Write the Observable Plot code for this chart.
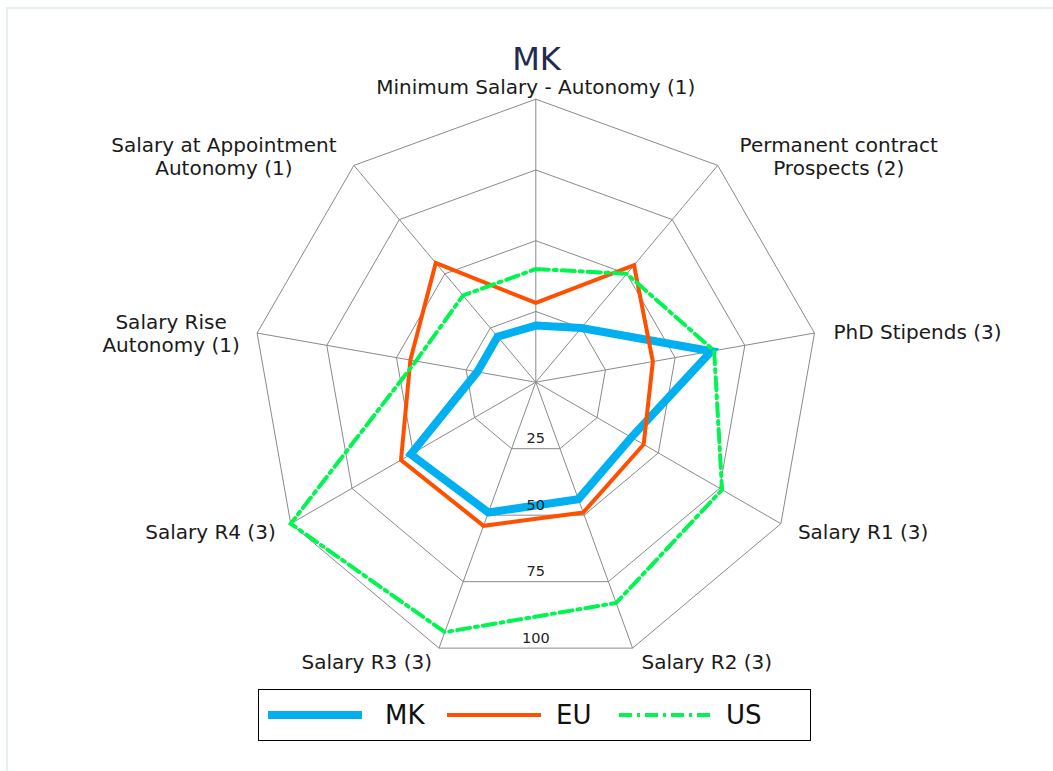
<!DOCTYPE html>
<html>
<head>
<meta charset="utf-8">
<script src="https://cdn.jsdelivr.net/npm/d3@7"></script>
<script src="https://cdn.jsdelivr.net/npm/@observablehq/plot@0.6"></script>
<style>
  html, body { margin: 0; padding: 0; background: #fff; width: 1053px; height: 771px; overflow: hidden; }
  body { position: relative; font-family: "DejaVu Sans", sans-serif; }
  #frame { position: absolute; left: 6px; top: 7px; width: 1100px; height: 800px; border-top: 2px solid #e8eff3; border-left: 2px solid #e8eff3; }
  #title { position: absolute; left: 0; top: 41px; width: 1073px; text-align: center; font-size: 32px; line-height: 36px; color: #1f2b4f; }
  #chart { position: absolute; left: 0; top: 74px; }
  #legend { position: absolute; left: 258px; top: 689px; width: 551px; height: 50px; border: 1px solid #000; background: #fff; }
  #legend .sw { position: absolute; top: 19px; }
  #legend .lab { position: absolute; top: 9px; font-size: 26px; line-height: 32px; color: #111; }
</style>
</head>
<body>
<div id="frame"></div>
<div id="title">MK</div>
<div id="chart"></div>
<div id="legend"></div>
<script>
// ---- data ----
const axes = [
  "Minimum Salary - Autonomy (1)",
  "Permanent contract\nProspects (2)",
  "PhD Stipends (3)",
  "Salary R1 (3)",
  "Salary R2 (3)",
  "Salary R3 (3)",
  "Salary R4 (3)",
  "Salary Rise\nAutonomy (1)",
  "Salary at Appointment\nAutonomy (1)"
];
const mkValues = [20, 25, 63, 39, 44, 49, 51, 21, 21];
const euValues = [28, 54, 42, 44, 49, 54, 55, 45, 55];
const usValues = [40, 50, 64, 76, 83, 94, 100, 43, 40];
const seriesNames = ["MK", "EU", "US"];
const ringTicks = [25, 50, 75, 100];

// ---- styles / layout ----
const colors = {MK: "#00b0f0", EU: "#ff5000", US: "#00f550"};
const widths = {MK: 8, EU: 4, US: 4};
const dashes = {MK: null, EU: null, US: "13,5,3,5"};
const labelLayout = [
  {anchor: "middle", dx: 0, dy: -13},
  {anchor: "middle", dx: 121, dy: -9},
  {anchor: "start", dx: 19, dy: -1},
  {anchor: "start", dx: 17, dy: 8},
  {anchor: "start", dx: 9, dy: 13},
  {anchor: "end", dx: -7, dy: 13},
  {anchor: "end", dx: -15, dy: 8},
  {anchor: "middle", dx: -86, dy: 0},
  {anchor: "middle", dx: -130, dy: -9}
];

const W = 1053, H = 608, CX = 535.3, CY = 381.7 - 74, PX = 2.83;
const n = axes.length;
const ang = i => i * 2 * Math.PI / n;
const px = (v, i) => v * Math.sin(ang(i));
const py = (v, i) => v * Math.cos(ang(i));

const valuesBySeries = {MK: mkValues, EU: euValues, US: usValues};
const seriesData = seriesNames.flatMap(s =>
  d3.range(n + 1).map(k => ({s, x: px(valuesBySeries[s][k % n], k % n), y: py(valuesBySeries[s][k % n], k % n)})));
const ringData = ringTicks.flatMap(t =>
  d3.range(n + 1).map(k => ({t, x: px(t, k % n), y: py(t, k % n)})));
const spokes = axes.map((a, i) => ({x1: 0, y1: 0, x2: px(100, i), y2: py(100, i)}));
const rMax = d3.max(ringTicks);

const marks = [
  Plot.line(ringData, {x: "x", y: "y", z: "t", stroke: "#8a8a8a", strokeWidth: 1}),
  Plot.link(spokes, {x1: "x1", y1: "y1", x2: "x2", y2: "y2", stroke: "#8a8a8a", strokeWidth: 1}),
  ...seriesNames.map(s => Plot.line(seriesData.filter(d => d.s === s), {
    x: "x", y: "y", stroke: colors[s], strokeWidth: widths[s],
    strokeDasharray: dashes[s], strokeLinejoin: "miter", strokeMiterlimit: 10
  })),
  Plot.text(ringTicks, {x: () => 0, y: t => -t * Math.cos(Math.PI / n), text: t => String(t),
    dy: -10, fontSize: 14.5, fill: "#222"}),
  ...axes.map((a, i) => Plot.text([a], {
    x: () => px(rMax, i), y: () => py(rMax, i), text: d => d,
    textAnchor: labelLayout[i].anchor, dx: labelLayout[i].dx, dy: labelLayout[i].dy,
    fontSize: 20, fill: "#1a1a1a", lineHeight: 1.15
  }))
];

const chart = Plot.plot({
  width: W, height: H,
  margin: 0,
  x: {domain: [-CX / PX, (W - CX) / PX], range: [0, W], axis: null},
  y: {domain: [-(H - CY) / PX, CY / PX], range: [H, 0], axis: null},
  style: {fontFamily: "DejaVu Sans, sans-serif", background: "transparent", overflow: "visible"},
  marks
});
document.getElementById("chart").appendChild(chart);

// ---- legend ----
const legend = document.getElementById("legend");
const swX = {MK: 9, EU: 188, US: 360};
const labX = {MK: 126, EU: 297, US: 467};
seriesNames.forEach(s => {
  const svg = d3.create("svg").attr("class", "sw").attr("width", 94).attr("height", 12)
    .style("left", swX[s] + "px");
  svg.append("line").attr("x1", 0).attr("x2", 94).attr("y1", 6).attr("y2", 6)
    .attr("stroke", colors[s]).attr("stroke-width", widths[s])
    .attr("stroke-dasharray", dashes[s]);
  legend.appendChild(svg.node());
  const lab = document.createElement("div");
  lab.className = "lab";
  lab.style.left = labX[s] + "px";
  lab.textContent = s;
  legend.appendChild(lab);
});
</script>
</body>
</html>
